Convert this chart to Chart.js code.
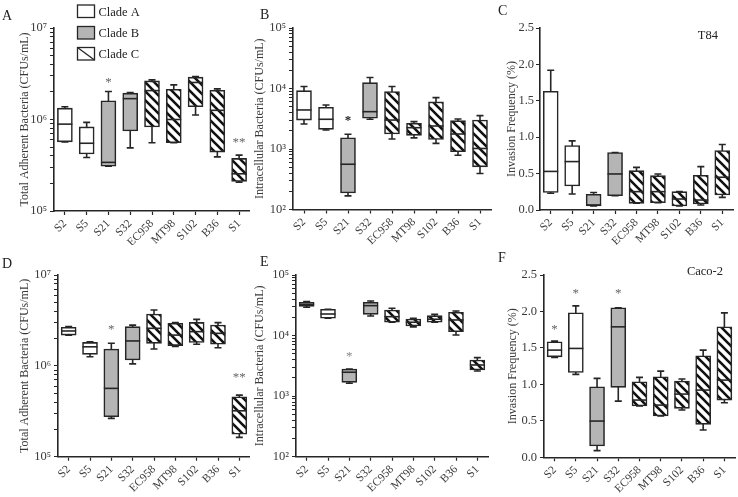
<!DOCTYPE html>
<html>
<head>
<meta charset="utf-8">
<script src="https://cdn.jsdelivr.net/npm/chart.js@4.4.0/dist/chart.umd.min.js"></script>
<style>
  html, body { margin: 0; padding: 0; background: #fff; }
  #wrap { position: relative; width: 738px; height: 497px; overflow: hidden; }
  canvas { position: absolute; }
</style>
</head>
<body>
<div id="wrap">
  <canvas id="cA" width="250" height="245" style="left:0;top:0"></canvas>
  <canvas id="cB" width="245" height="245" style="left:250px;top:0"></canvas>
  <canvas id="cC" width="243" height="245" style="left:495px;top:0"></canvas>
  <canvas id="cD" width="250" height="252" style="left:0;top:245px"></canvas>
  <canvas id="cE" width="245" height="252" style="left:250px;top:245px"></canvas>
  <canvas id="cF" width="243" height="252" style="left:495px;top:245px"></canvas>
</div>
<script>
// strains and their clade
const categories = ['S2', 'S5', 'S21', 'S32', 'EC958', 'MT98', 'S102', 'B36', 'S1'];
const clades = ['A', 'A', 'B', 'B', 'C', 'C', 'C', 'C', 'C'];

// each row: [min, q1, median, q3, max]
const totalT84 = [
  [5.7e5, 5.7e5, 8.9e5, 1.33e6, 1.38e6],
  [3.85e5, 4.2e5, 5.5e5, 8.3e5, 9.3e5],
  [3.09e5, 3.09e5, 3.4e5, 1.6e6, 2.02e6],
  [4.9e5, 7.5e5, 1.69e6, 1.94e6, 1.97e6],
  [5.57e5, 8.3e5, 2.07e6, 2.64e6, 2.71e6],
  [5.57e5, 5.57e5, 1.0e6, 2.14e6, 2.39e6],
  [1.12e6, 1.38e6, 2.54e6, 2.9e6, 2.94e6],
  [3.9e5, 4.4e5, 1.26e6, 2.09e6, 2.16e6],
  [2.07e5, 2.1e5, 2.55e5, 3.76e5, 4.08e5]
];
const intraT84 = [
  [2.59e3, 3.01e3, 4.42e3, 9.2e3, 1.08e4],
  [2.06e3, 2.11e3, 3.1e3, 4.9e3, 5.35e3],
  [1.68e2, 1.88e2, 5.6e2, 1.53e3, 1.75e3],
  [3.1e3, 3.22e3, 4.14e3, 1.25e4, 1.52e4],
  [1.46e3, 1.77e3, 3.01e3, 8.9e3, 1.08e4],
  [1.53e3, 1.68e3, 2.25e3, 2.66e3, 2.83e3],
  [1.24e3, 1.44e3, 2.4e3, 6.0e3, 7.06e3],
  [7.9e2, 9.0e2, 1.77e3, 2.94e3, 3.13e3],
  [3.94e2, 5.07e2, 1.02e3, 3.01e3, 3.56e3]
];
const invT84 = [
  [0.23, 0.24, 0.53, 1.63, 1.92],
  [0.22, 0.33, 0.665, 0.885, 0.95],
  [0.055, 0.055, 0.069, 0.215, 0.24],
  [0.197, 0.197, 0.495, 0.79, 0.79],
  [0.092, 0.092, 0.252, 0.54, 0.585],
  [0.1, 0.1, 0.252, 0.472, 0.495],
  [0.055, 0.055, 0.151, 0.252, 0.252],
  [0.069, 0.083, 0.137, 0.477, 0.596],
  [0.174, 0.206, 0.45, 0.816, 0.9]
];
const totalCaco = [
  [2.18e6, 2.18e6, 2.42e6, 2.66e6, 2.7e6],
  [1.26e6, 1.34e6, 1.62e6, 1.81e6, 1.84e6],
  [2.64e5, 2.75e5, 5.65e5, 1.53e6, 1.77e6],
  [1.05e6, 1.16e6, 1.88e6, 2.7e6, 2.81e6],
  [1.53e6, 1.77e6, 2.59e6, 3.72e6, 4.12e6],
  [1.64e6, 1.67e6, 2.18e6, 2.94e6, 2.99e6],
  [1.73e6, 1.81e6, 2.38e6, 3.01e6, 3.25e6],
  [1.58e6, 1.73e6, 2.28e6, 2.81e6, 2.99e6],
  [1.63e5, 1.77e5, 3.2e5, 4.57e5, 4.76e5]
];
const intraCaco = [
  [2.93e4, 3.04e4, 3.28e4, 3.54e4, 3.63e4],
  [1.93e4, 1.93e4, 2.27e4, 2.72e4, 2.72e4],
  [1.63e3, 1.69e3, 2.48e3, 2.81e3, 2.81e3],
  [2.1e4, 2.24e4, 3.12e4, 3.54e4, 3.72e4],
  [1.66e4, 1.66e4, 2.05e4, 2.64e4, 2.82e4],
  [1.39e4, 1.44e4, 1.66e4, 1.88e4, 1.93e4],
  [1.66e4, 1.66e4, 1.86e4, 2.13e4, 2.24e4],
  [1.02e4, 1.16e4, 1.81e4, 2.42e4, 2.55e4],
  [2.6e3, 2.71e3, 3.27e3, 3.95e3, 4.32e3]
];
const invCaco = [
  [1.37, 1.378, 1.47, 1.584, 1.593],
  [1.137, 1.164, 1.493, 1.981, 2.077],
  [0.091, 0.155, 0.497, 0.967, 1.082],
  [0.771, 0.959, 1.789, 2.05, 2.05],
  [0.703, 0.703, 0.785, 1.036, 1.096],
  [0.566, 0.566, 0.716, 1.105, 1.182],
  [0.648, 0.671, 0.867, 1.045, 1.073],
  [0.374, 0.452, 0.922, 1.392, 1.47],
  [0.748, 0.785, 1.059, 1.789, 1.981]
];

// significance marks and the value they sit at
const starsTotalT84 = ['', '', '*', '', '', '', '', '', '**'];
const starAtTotalT84 = [null, null, 2.7e6, null, null, null, null, null, 6.0e5];
const starsIntraT84 = ['', '', '*', '', '', '', '', '', ''];
const starAtIntraT84 = [null, null, 3.25e3, null, null, null, null, null, null];
const starsTotalCaco = ['', '', '*', '', '', '', '', '', '**'];
const starAtTotalCaco = [null, null, 2.7e6, null, null, null, null, null, 7.9e5];
const starsIntraCaco = ['', '', '*', '', '', '', '', '', ''];
const starAtIntraCaco = [null, null, 4.9e3, null, null, null, null, null, null];
const starsInvCaco = ['*', '*', '', '*', '', '', '', '', ''];
const starAtInvCaco = [1.79, 2.28, null, 2.28, null, null, null, null, null];

const FONT = "'Liberation Serif', 'Times New Roman', serif";
const INK = '#262626';
const TXT = '#3a3a3a';
const GRAY = '#b5b5b5';
const SUP = { '2': '\u00b2', '3': '\u00b3', '4': '\u2074', '5': '\u2075', '6': '\u2076', '7': '\u2077' };

function hatchFor(ctx) {
  const s = 9;
  const tile = document.createElement('canvas');
  tile.width = s; tile.height = s;
  const g = tile.getContext('2d');
  g.fillStyle = '#fff';
  g.fillRect(0, 0, s, s);
  g.strokeStyle = '#111';
  g.lineWidth = 2.6;
  g.beginPath();
  for (const k of [-s, 0, s]) { g.moveTo(k - 1, -1); g.lineTo(k + s + 1, s + 1); }
  g.stroke();
  return ctx.createPattern(tile, 'repeat');
}

// whiskers, medians, stars and free text
const boxWhisker = {
  id: 'boxWhisker',
  beforeDatasetsDraw(chart, args, opts) {
    const { ctx, scales: { y } } = chart;
    const bars = chart.getDatasetMeta(0).data;
    ctx.save();
    ctx.strokeStyle = INK;
    ctx.lineWidth = 1.6;
    opts.stats.forEach((s, i) => {
      const x = bars[i].x;
      const lo = y.getPixelForValue(s[0]);
      const hi = y.getPixelForValue(s[4]);
      ctx.beginPath();
      ctx.moveTo(x, lo); ctx.lineTo(x, hi);
      ctx.moveTo(x - 3.5, lo); ctx.lineTo(x + 3.5, lo);
      ctx.moveTo(x - 3.5, hi); ctx.lineTo(x + 3.5, hi);
      ctx.stroke();
    });
    ctx.restore();
  },
  afterDatasetsDraw(chart, args, opts) {
    const { ctx, scales: { y } } = chart;
    const bars = chart.getDatasetMeta(0).data;
    ctx.save();
    ctx.strokeStyle = INK;
    ctx.lineWidth = 1.6;
    opts.stats.forEach((s, i) => {
      const b = bars[i];
      const m = y.getPixelForValue(s[2]);
      ctx.beginPath();
      ctx.moveTo(b.x - b.width / 2, m);
      ctx.lineTo(b.x + b.width / 2, m);
      ctx.stroke();
    });
    if (opts.stars) {
      ctx.font = (opts.starBold ? 'bold ' : '') + '13px ' + FONT;
      ctx.fillStyle = opts.starColor || '#666';
      ctx.textAlign = 'center';
      ctx.textBaseline = 'alphabetic';
      opts.stars.forEach((t, i) => {
        if (!t) return;
        ctx.fillText(t, bars[i].x, y.getPixelForValue(opts.starAt[i]) + 6);
      });
    }
    ctx.restore();
  },
  afterDraw(chart, args, opts) {
    const ctx = chart.ctx;
    ctx.save();
    ctx.textBaseline = 'alphabetic';
    (opts.texts || []).forEach(t => {
      ctx.font = t.size + 'px ' + FONT;
      ctx.fillStyle = t.color || '#222';
      ctx.textAlign = t.align || 'left';
      ctx.fillText(t.text, t.x, t.y);
    });
    if (opts.legend) {
      const rows = [['Clade A', '#fff', 5], ['Clade B', GRAY, 26.5], ['Clade C', '#fff', 47.5]];
      rows.forEach(([label, fill, top], k) => {
        ctx.fillStyle = fill;
        ctx.fillRect(77.5, top, 17, 12.5);
        ctx.strokeStyle = INK;
        ctx.lineWidth = 1.3;
        ctx.strokeRect(77.5, top, 17, 12.5);
        if (k === 2) {
          ctx.beginPath();
          ctx.moveTo(77.5, top); ctx.lineTo(94.5, top + 12.5);
          ctx.stroke();
        }
        ctx.font = '12.5px ' + FONT;
        ctx.fillStyle = '#222';
        ctx.textAlign = 'left';
        ctx.fillText(label, 98.5, top + 10.5);
      });
    }
    ctx.restore();
  }
};

function logTicks(lo, hi) {
  return function (scale) {
    const t = [];
    for (let e = lo; e < hi; e++) {
      for (let m = 1; m < 10; m++) t.push({ value: m * Math.pow(10, e) });
    }
    t.push({ value: Math.pow(10, hi) });
    scale.ticks = t;
  };
}

function logLabel(v) {
  const e = Math.log10(v);
  const r = Math.round(e);
  return Math.abs(e - r) < 1e-6 ? '10' + SUP[String(r)] : '';
}

function makePanel(id, p) {
  const canvas = document.getElementById(id);
  const ctx = canvas.getContext('2d');
  const pattern = hatchFor(ctx);

  const yScale = p.log ? {
    type: 'logarithmic',
    min: Math.pow(10, p.lo),
    max: Math.pow(10, p.hi),
    afterBuildTicks: logTicks(p.lo, p.hi),
    ticks: { autoSkip: false, callback: logLabel }
  } : {
    type: 'linear',
    min: 0,
    max: 2.5,
    ticks: { stepSize: 0.5, callback: v => v.toFixed(1) }
  };

  Object.assign(yScale.ticks, {
    color: TXT,
    padding: p.tickPad || 3,
    font: { family: FONT, size: 12.5 }
  });
  Object.assign(yScale, {
    grid: { display: true, drawOnChartArea: false, tickLength: 4, color: INK, tickWidth: 1 },
    border: { display: true, color: INK, width: 1.6 },
    title: {
      display: true,
      text: p.yTitle,
      color: TXT,
      font: { family: FONT, size: 12 },
      padding: { top: p.titlePad, bottom: 0 }
    },
    afterFit(s) {
      s.width = p.yW;
      s.paddingTop = 0;
      s.paddingBottom = 0;
    }
  });

  return new Chart(canvas, {
    type: 'bar',
    data: {
      labels: categories,
      datasets: [{
        data: p.stats.map(s => [s[1], s[3]]),
        backgroundColor: clades.map(c => c === 'A' ? '#fff' : c === 'B' ? GRAY : pattern),
        borderColor: INK,
        borderWidth: 1.6,
        borderSkipped: false,
        barThickness: 15
      }]
    },
    options: {
      responsive: false,
      animation: false,
      events: [],
      layout: { padding: { top: p.top, right: p.right, left: 0, bottom: 0 } },
      plugins: {
        legend: { display: false },
        tooltip: { enabled: false },
        boxWhisker: {
          stats: p.stats,
          stars: p.stars,
          starAt: p.starAt,
          starColor: p.starColor,
          starBold: p.starBold,
          texts: p.texts,
          legend: p.legend
        }
      },
      scales: {
        x: {
          offset: true,
          grid: { display: true, drawOnChartArea: false, offset: false, tickLength: 4, color: INK, tickWidth: 1.2 },
          border: { display: true, color: INK, width: 1.6 },
          ticks: {
            autoSkip: false,
            minRotation: 45,
            maxRotation: 45,
            padding: 2,
            color: TXT,
            font: { family: FONT, size: 11.5 }
          },
          afterFit(s) {
            s.height = p.xH;
            s.paddingLeft = 0;
            s.paddingRight = 0;
          }
        },
        y: yScale
      }
    },
    plugins: [boxWhisker]
  });
}

makePanel('cA', {
  stats: totalT84, log: true, lo: 5, hi: 7,
  yTitle: 'Total Adherent Bacteria (CFUs/mL)',
  yW: 54, xH: 34, top: 28, right: 0, titlePad: 18,
  stars: starsTotalT84, starAt: starAtTotalT84, starColor: '#666',
  legend: true,
  texts: [{ text: 'A', x: 2, y: 20, size: 14 }]
});

makePanel('cB', {
  stats: intraT84, log: true, lo: 2, hi: 5,
  yTitle: 'Intracellular Bacteria (CFUs/mL)',
  yW: 43, xH: 35.5, top: 28, right: 4, titlePad: 3,
  stars: starsIntraT84, starAt: starAtIntraT84, starColor: '#222', starBold: true,
  texts: [{ text: 'B', x: 10, y: 18.5, size: 14 }]
});

makePanel('cC', {
  stats: invT84, log: false,
  yTitle: 'Invasion Frequency (%)',
  yW: 45, xH: 35, top: 28, right: 5, titlePad: 9.5, tickPad: 2,
  texts: [
    { text: 'C', x: 3, y: 15, size: 14 },
    { text: 'T84', x: 223, y: 39, size: 12.5, align: 'right' }
  ]
});

makePanel('cD', {
  stats: totalCaco, log: true, lo: 5, hi: 7,
  yTitle: 'Total Adherent Bacteria (CFUs/mL)',
  yW: 58, xH: 40.3, top: 30, right: 0, titlePad: 18,
  stars: starsTotalCaco, starAt: starAtTotalCaco, starColor: '#666',
  texts: [{ text: 'D', x: 2, y: 22.5, size: 14 }]
});

makePanel('cE', {
  stats: intraCaco, log: true, lo: 2, hi: 5,
  yTitle: 'Intracellular Bacteria (CFUs/mL)',
  yW: 46, xH: 40.3, top: 30, right: 7, titlePad: 3,
  stars: starsIntraCaco, starAt: starAtIntraCaco, starColor: '#888',
  texts: [{ text: 'E', x: 10, y: 21, size: 14 }]
});

makePanel('cF', {
  stats: invCaco, log: false,
  yTitle: 'Invasion Frequency (%)',
  yW: 49, xH: 39.7, top: 30, right: 3, titlePad: 10.5,
  stars: starsInvCaco, starAt: starAtInvCaco, starColor: '#666',
  texts: [
    { text: 'F', x: 3, y: 17, size: 14 },
    { text: 'Caco-2', x: 228, y: 30, size: 12.5, align: 'right' }
  ]
});
</script>
</body>
</html>
